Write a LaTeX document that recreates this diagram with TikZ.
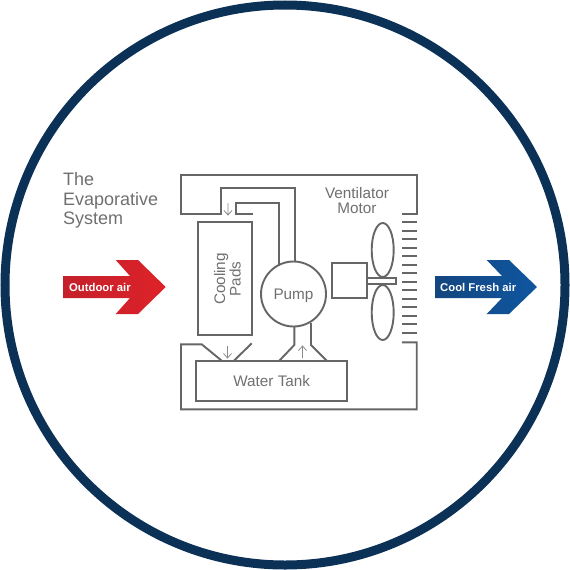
\documentclass[tikz,border=0pt]{standalone}
\usepackage{fontspec}
\usetikzlibrary{shapes.geometric}
\setmainfont{Liberation Sans}
\tikzset{
  x=1pt,y=-1pt,
  pipe/.style={draw=linegray,line width=1.9pt,line join=miter},
  part/.style={draw=linegray,line width=1.9pt,fill=none,inner sep=0pt},
  thinarrow/.style={draw=arrowgray,line width=0.8pt},
  label/.style={text=textgray,font=\fontsize{15.3}{15}\selectfont,inner sep=0pt,align=center},
  airlabel/.style={text=white,font=\fontsize{11.3}{12}\bfseries\selectfont,inner sep=0pt,anchor=west},
}
\definecolor{linegray}{HTML}{666666}
\definecolor{arrowgray}{HTML}{8A8A8A}
\definecolor{textgray}{HTML}{707070}
\definecolor{ring}{HTML}{0C3157}
\definecolor{redL}{HTML}{C4202B}
\definecolor{redR}{HTML}{DE2229}
\definecolor{blueL}{HTML}{14467F}
\definecolor{blueR}{HTML}{0F56A0}
\begin{document}
\begin{tikzpicture}
\useasboundingbox (0,0) rectangle (570,570);
\fill[white] (0,0) rectangle (570,570);
\node[circle,draw=ring,line width=9pt,minimum size=560pt,inner sep=0pt] (ringc) at (285,285) {};

% air arrows
\path[left color=redL,right color=redR,draw=none]
 (63,276)--(130,276)--(115.7,260)--(138,260)--(165.7,287)--(138,314)--(115.7,314)--(130,298)--(63,298)--cycle;
\path[left color=blueL,right color=blueR,draw=none]
 (435,276)--(502,276)--(486.7,260)--(509,260)--(537,287)--(509,314)--(486.7,314)--(502,298)--(435,298)--cycle;
\node[airlabel] (outdoor) at (69,287.5) {Outdoor air};
\node[airlabel] (cool) at (440,287.5) {Cool Fresh air};

% parts
\node[circle,part,minimum size=65pt] (pump) at (293.5,294) {};
\node[label] (pumpt) at (293.5,296) {Pump};
\node[part,minimum width=54pt,minimum height=113pt] (pads) at (225,278.5) {};
\node[label,rotate=90,font=\fontsize{15.3}{15.5}\selectfont] (padst) at (227.5,279) {Cooling\\Pads};
\node[part,minimum width=150.7pt,minimum height=40pt] (tank) at (271.7,380.7) {};
\node[label] (tankt) at (271.7,381.5) {Water Tank};
\node[part,minimum width=35pt,minimum height=35pt] (motor) at (349.2,280.8) {};
\node[part,minimum width=29pt,minimum height=6.4pt] (shaft) at (381.2,280.9) {};
\node[ellipse,part,minimum width=22pt,minimum height=54pt] (bladeA) at (382.7,250) {};
\node[ellipse,part,minimum width=22pt,minimum height=55pt] (bladeB) at (382.7,312.5) {};

% pipes
\draw[pipe] (295,262)--(295,188)--(220.7,188)--(220.7,214)--(181,214)--(181,175)--(416.7,175)--(416.7,214)--(402,214);
\draw[pipe] (279,266)--(279,203)--(236,203)--(236,214)--(253,214);
\draw[pipe] (402,342.3)--(416.7,342.3)--(416.7,409.3)--(181,409.3)--(181,344.3)--(201.7,344.3)--(221.7,360.7);
\draw[pipe] (251.7,343.3)--(234,360.7);
\draw[pipe] (294.3,326)--(294.3,345)--(279.3,360.7);
\draw[pipe] (311,323)--(311,345)--(326.7,360.7);

% flow arrows
\draw[thinarrow] (228,203)--(228,215) (224,210.5)--(228,215)--(232,210.5);
\draw[thinarrow] (227.5,346)--(227.5,358) (223.5,353.5)--(227.5,358)--(231.5,353.5);
\draw[thinarrow] (302.5,358)--(302.5,346) (298.5,350.5)--(302.5,346)--(306.5,350.5);

% louvres
\foreach \yy in {222.3,230.8,...,334}{\draw[pipe] (402,\yy)--(417,\yy);}

% texts
\node[label,align=center] (vm) at (357,200.5) {Ventilator\\[-0.5pt]Motor};
\node[label,font=\fontsize{18}{19.3}\selectfont,align=left,anchor=north west] (title) at (63,172.5) {The\\Evaporative\\System};
\end{tikzpicture}
\end{document}
